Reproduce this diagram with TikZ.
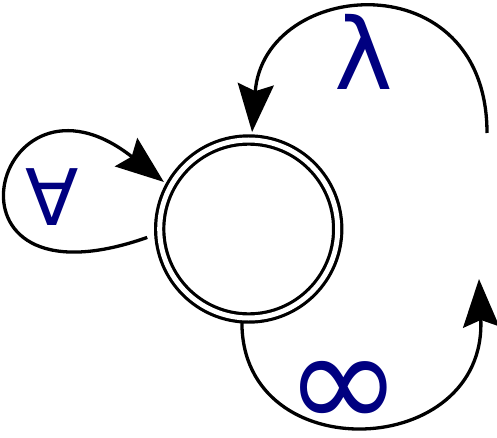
\documentclass[tikz,border=0pt]{standalone}
\usepackage{fontspec}
\usepackage{xcolor}
\newfontfamily\labelfont{DejaVu Sans}
\usetikzlibrary{arrows.meta}
\definecolor{labelblue}{RGB}{0,0,128}

\begin{document}
\begin{tikzpicture}[x=1pt, y=-1pt,
  edge/.style={line width=3.3pt, -{Stealth[length=48pt, width=36pt, inset=7pt]}},
  sym/.style={text=labelblue, inner sep=0pt}]
  \useasboundingbox (0,0) rectangle (497,438);

  % State
  \node[draw, circle, double, line width=3.2pt, double distance=5pt,
        minimum size=178pt, inner sep=0pt, outer sep=8pt] (q) at (248.7, 229) {};

  % Free ends
  \coordinate (lamstart) at (487, 133);
  \coordinate (infend)   at (479, 279);

  % Self loop
  \draw[edge, shorten <=5pt] (q.184.5) .. controls (-76, 316) and (-6, 48) .. (q.151.8);
  \node[sym] (forall) at (52, 197) {\fontsize{78}{78}\labelfont ∀};

  % Lambda
  \draw[edge] (lamstart) .. controls (487, -40) and (264, -22) .. (q.88.7);
  \node[sym] (lambda) at (363.5, 51.5) {\fontsize{99}{99}\labelfont λ};

  % Infinity
  \draw[edge, shorten <=-3pt] (q.266) .. controls (242, 470) and (487, 460) .. (infend);
  \node[sym] (infty) at (344, 395) {\fontsize{140}{140}\labelfont ∞};
\end{tikzpicture}
\end{document}
